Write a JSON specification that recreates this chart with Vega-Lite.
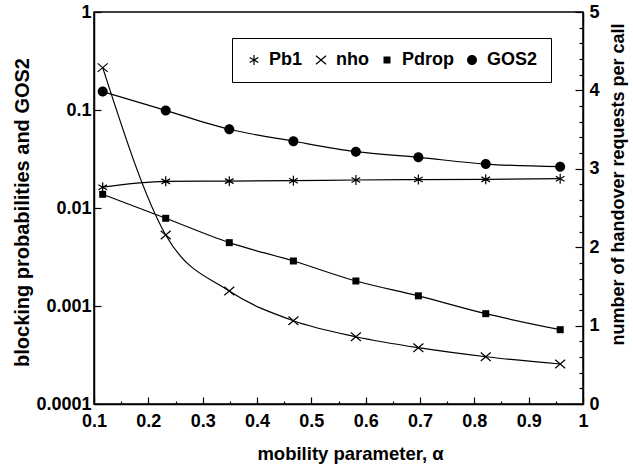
{
  "$schema": "https://vega.github.io/schema/vega-lite/v6.json",
  "width": 489,
  "height": 392,
  "autosize": {"type": "none"},
  "padding": {"left": 94, "top": 12, "right": 50, "bottom": 67},
  "background": "white",
  "config": {
    "font": "Liberation Sans",
    "view": {"stroke": "black", "strokeWidth": 1.5},
    "axis": {
      "domainColor": "black", "domainWidth": 1.5,
      "tickColor": "black", "tickWidth": 1.2,
      "labelColor": "black", "labelFont": "Liberation Sans", "labelFontSize": 18, "labelFontWeight": "bold",
      "titleFont": "Liberation Sans", "titleFontSize": 18, "titleFontWeight": "bold", "titleColor": "black",
      "grid": false
    },
    "legend": {"columnPadding": 9, "padding": 13, "labelOffset": 6}
  },
  "data": {
    "values": [
      {"alpha": 0.116, "series": "Pb1", "value": 0.0163},
      {"alpha": 0.232, "series": "Pb1", "value": 0.0187},
      {"alpha": 0.349, "series": "Pb1", "value": 0.0188},
      {"alpha": 0.467, "series": "Pb1", "value": 0.0190},
      {"alpha": 0.582, "series": "Pb1", "value": 0.0193},
      {"alpha": 0.697, "series": "Pb1", "value": 0.0195},
      {"alpha": 0.821, "series": "Pb1", "value": 0.0196},
      {"alpha": 0.958, "series": "Pb1", "value": 0.0199},
      {"alpha": 0.116, "series": "Pdrop", "value": 0.0138},
      {"alpha": 0.232, "series": "Pdrop", "value": 0.00785},
      {"alpha": 0.349, "series": "Pdrop", "value": 0.00443},
      {"alpha": 0.467, "series": "Pdrop", "value": 0.00288},
      {"alpha": 0.582, "series": "Pdrop", "value": 0.0018},
      {"alpha": 0.697, "series": "Pdrop", "value": 0.00127},
      {"alpha": 0.821, "series": "Pdrop", "value": 0.000835},
      {"alpha": 0.958, "series": "Pdrop", "value": 0.000573},
      {"alpha": 0.116, "series": "GOS2", "value": 0.154},
      {"alpha": 0.232, "series": "GOS2", "value": 0.099},
      {"alpha": 0.349, "series": "GOS2", "value": 0.0636},
      {"alpha": 0.467, "series": "GOS2", "value": 0.048},
      {"alpha": 0.582, "series": "GOS2", "value": 0.0376},
      {"alpha": 0.697, "series": "GOS2", "value": 0.0329},
      {"alpha": 0.821, "series": "GOS2", "value": 0.0281},
      {"alpha": 0.958, "series": "GOS2", "value": 0.0264},
      {"alpha": 0.116, "series": "nho", "value": 4.29},
      {"alpha": 0.232, "series": "nho", "value": 2.156},
      {"alpha": 0.349, "series": "nho", "value": 1.441},
      {"alpha": 0.467, "series": "nho", "value": 1.062},
      {"alpha": 0.582, "series": "nho", "value": 0.858},
      {"alpha": 0.697, "series": "nho", "value": 0.718},
      {"alpha": 0.821, "series": "nho", "value": 0.603},
      {"alpha": 0.958, "series": "nho", "value": 0.51}
    ]
  },
  "encoding": {
    "x": {
      "field": "alpha", "type": "quantitative",
      "scale": {"domain": [0.1, 1], "nice": false, "zero": false},
      "axis": {
        "title": "mobility parameter, α",
        "values": [0.1, 0.15, 0.2, 0.25, 0.3, 0.35, 0.4, 0.45, 0.5, 0.55, 0.6, 0.65, 0.7, 0.75, 0.8, 0.85, 0.9, 0.95, 1],
        "labelExpr": "round(datum.value * 100) % 10 === 0 ? format(datum.value, '.1~f') : ''",
        "tickSize": {"condition": {"test": "round(datum.value * 100) % 10 === 0", "value": -7}, "value": -3},
        "labelPadding": 15,
        "labelFlush": false,
        "titleFontSize": 18.5,
        "titleX": 256,
        "titleY": 55,
        "titleAlign": "center",
        "titleBaseline": "alphabetic"
      }
    },
    "shape": {
      "field": "series", "type": "nominal",
      "scale": {"domain": ["Pb1", "nho", "Pdrop", "GOS2"], "range": [
        "M-0.12,-1L0.12,-1L0.12,1L-0.12,1ZM-0.806,-0.604L0.926,0.396L0.806,0.604L-0.926,-0.396ZM-0.926,0.396L0.806,-0.604L0.926,-0.396L-0.806,0.604Z",
        "M-0.922,-0.941L1.078,0.759L0.922,0.941L-1.078,-0.759ZM-1.078,0.759L0.922,-0.941L1.078,-0.759L-0.922,0.941Z",
        "M-0.7,-0.7L0.7,-0.7L0.7,0.7L-0.7,0.7Z",
        "M-1,0A1,1,0,1,1,1,0A1,1,0,1,1,-1,0Z"
      ]},
      "legend": {
        "title": null, "orient": "none", "legendX": 138, "legendY": 26,
        "direction": "horizontal", "columns": 4,
        "strokeColor": "black", "fillColor": "white",
        "labelFont": "Liberation Sans", "labelFontSize": 18, "labelFontWeight": "bold", "labelColor": "black",
        "symbolFillColor": "black", "symbolStrokeWidth": 0, "symbolOpacity": 1, "symbolSize": 100
      }
    }
  },
  "layer": [
    {
      "transform": [{"filter": "datum.series !== 'nho'"}],
      "encoding": {
        "y": {
          "field": "value", "type": "quantitative",
          "scale": {"type": "log", "domain": [0.0001, 1], "nice": false},
          "axis": {
            "title": "blocking probabilities and GOS2",
            "values": [0.0001, 0.001, 0.01, 0.1, 1],
            "format": ".4~f",
            "tickSize": -7,
            "labelPadding": 10,
            "titleFontSize": 20,
            "titleAngle": 270,
            "titleX": -66,
            "titleY": 200,
            "titleAlign": "center",
            "titleBaseline": "alphabetic"
          }
        }
      },
      "layer": [
        {"mark": {"type": "line", "interpolate": "monotone", "color": "black", "strokeWidth": 1.2}, "encoding": {"detail": {"field": "series"}, "shape": null}},
        {"mark": {"type": "point", "filled": true, "fill": "black", "strokeWidth": 0, "opacity": 1, "size": 100}}
      ]
    },
    {
      "transform": [{"filter": "datum.series === 'nho'"}],
      "encoding": {
        "y": {
          "field": "value", "type": "quantitative",
          "scale": {"domain": [0, 5], "nice": false},
          "axis": {
            "orient": "right",
            "title": "number of handover requests per call",
            "values": [0, 0.2, 0.4, 0.6, 0.8, 1, 1.2, 1.4, 1.6, 1.8, 2, 2.2, 2.4, 2.6, 2.8, 3, 3.2, 3.4, 3.6, 3.8, 4, 4.2, 4.4, 4.6, 4.8, 5],
            "labelExpr": "datum.value % 1 === 0 ? format(datum.value, 'd') : ''",
            "tickSize": {"condition": {"test": "datum.value % 1 === 0", "value": -8}, "value": -4},
            "labelPadding": 14,
            "labelFlush": false,
            "titleAngle": 270,
            "titleX": 40,
            "titleY": 172,
            "titleAlign": "center",
            "titleBaseline": "alphabetic"
          }
        }
      },
      "layer": [
        {"mark": {"type": "line", "interpolate": "monotone", "color": "black", "strokeWidth": 1.2}, "encoding": {"detail": {"field": "series"}, "shape": null}},
        {"mark": {"type": "point", "filled": true, "fill": "black", "strokeWidth": 0, "opacity": 1, "size": 100}}
      ]
    }
  ],
  "resolve": {"scale": {"y": "independent"}}
}
